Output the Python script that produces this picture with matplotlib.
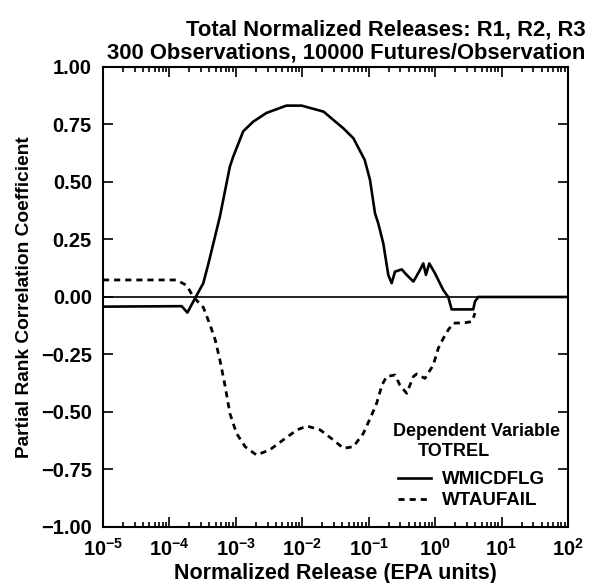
import numpy as np
import matplotlib
matplotlib.use("Agg")
import matplotlib.pyplot as plt
from matplotlib.ticker import LogLocator, FixedLocator

plt.rcParams['font.family'] = ['Liberation Sans', 'DejaVu Sans']
plt.rcParams['font.weight'] = 'bold'
plt.rcParams['axes.labelweight'] = 'bold'
plt.rcParams['mathtext.default'] = 'bf'

# log10 of normalized release, and PRCC values
solid_logx = [-5.0, -3.815, -3.73, -3.615, -3.49, -3.40, -3.24, -3.09, -3.04, -2.89,
              -2.74, -2.54, -2.24, -2.01, -1.68, -1.38, -1.23, -1.06, -0.98, -0.905,
              -0.856, -0.78, -0.705, -0.654, -0.604, -0.503, -0.428, -0.327, -0.228,
              -0.178, -0.138, -0.088, -0.002, 0.123, 0.198, 0.249, 0.574, 0.60, 0.65, 2.0]
solid_prcc = [-0.042, -0.040, -0.068, -0.006, 0.06, 0.16, 0.35, 0.567, 0.61, 0.72,
              0.762, 0.80, 0.832, 0.832, 0.806, 0.733, 0.69, 0.596, 0.509, 0.364,
              0.32, 0.233, 0.096, 0.06, 0.11, 0.12, 0.096, 0.067, 0.117,
              0.146, 0.096, 0.146, 0.103, 0.03, 0.0, -0.054, -0.054, -0.02, 0.0, 0.0]

dot_logx = [-5.0, -3.89, -3.74, -3.64, -3.49, -3.39, -3.31, -3.24, -3.16, -3.09,
            -2.99, -2.86, -2.69, -2.49, -2.29, -2.08, -1.93, -1.73, -1.53, -1.38,
            -1.23, -1.08, -0.955, -0.88, -0.80, -0.73, -0.604, -0.53, -0.428, -0.327,
            -0.278, -0.153, -0.028, 0.048, 0.123, 0.198, 0.273, 0.45, 0.55, 0.574, 0.6]
dot_prcc = [0.074, 0.074, 0.05, 0.0, -0.045, -0.12, -0.187, -0.274, -0.39, -0.506,
            -0.593, -0.651, -0.687, -0.665, -0.622, -0.578, -0.561, -0.578, -0.622, -0.658,
            -0.651, -0.593, -0.513, -0.462, -0.383, -0.346, -0.339, -0.383, -0.419, -0.346,
            -0.335, -0.354, -0.296, -0.223, -0.18, -0.143, -0.114, -0.112, -0.107, -0.093, -0.07]

yticks = [1.0, 0.75, 0.5, 0.25, 0.0, -0.25, -0.5, -0.75, -1.0]
ytick_labels = ["1.00", "0.75", "0.50", "0.25", "0.00", "\u22120.25", "\u22120.50", "\u22120.75", "\u22121.00"]
series_names = ["WMICDFLG", "WTAUFAIL"]

fig = plt.figure(figsize=(5.9, 5.83), dpi=100)
ax = fig.add_axes([0.1746, 0.0961, 0.788, 0.789])

ax.axhline(0, color="black", lw=1.2)
ln1, = ax.plot(10 ** np.array(solid_logx), solid_prcc, color="black", lw=1.9)
ln2, = ax.plot(10 ** np.array(dot_logx), dot_prcc, color="black", lw=2.0,
               linestyle=(0, (2.2, 1.8)))

ax.set_xscale("log")
ax.set_xlim(1e-5, 1e2)
ax.set_ylim(-1, 1)
ax.xaxis.set_major_locator(LogLocator(base=10, numticks=10))
ax.xaxis.set_minor_locator(LogLocator(base=10, subs=np.arange(2, 10), numticks=20))
ax.yaxis.set_major_locator(FixedLocator(yticks))
ax.set_yticklabels(ytick_labels)

ax.tick_params(which="both", direction="in", top=True, right=True, width=1.2,
               labelsize=14.5, pad=8)
ax.tick_params(which="major", length=7)
ax.tick_params(which="minor", length=3.5)
for s in ax.spines.values():
    s.set_linewidth(1.5)

ax.set_xlabel("Normalized Release (EPA units)", fontsize=15.5, labelpad=2)
ax.set_ylabel("Partial Rank Correlation Coefficient", fontsize=13.8, labelpad=6)

fig.text(0.992, 0.949, "Total Normalized Releases: R1, R2, R3", ha="right", va="center", fontsize=15.8)
fig.text(0.992, 0.909, "300 Observations, 10000 Futures/Observation", ha="right", va="center", fontsize=15.8)

# legend header
ax.text(0.624, 0.2065, "Dependent Variable", transform=ax.transAxes, ha="left", va="center",
        fontsize=13)
ax.text(0.678, 0.163, "TOTREL", transform=ax.transAxes, ha="left", va="center",
        fontsize=13)

leg = ax.legend([ln1, ln2], series_names, loc="lower left",
                bbox_to_anchor=(0.619, 0.022), frameon=False,
                prop={"size": 13.5, "weight": "bold"},
                handlelength=1.75, handletextpad=0.6,
                labelspacing=0.2, borderaxespad=0.0)

fig.savefig("out.png", dpi=100)
